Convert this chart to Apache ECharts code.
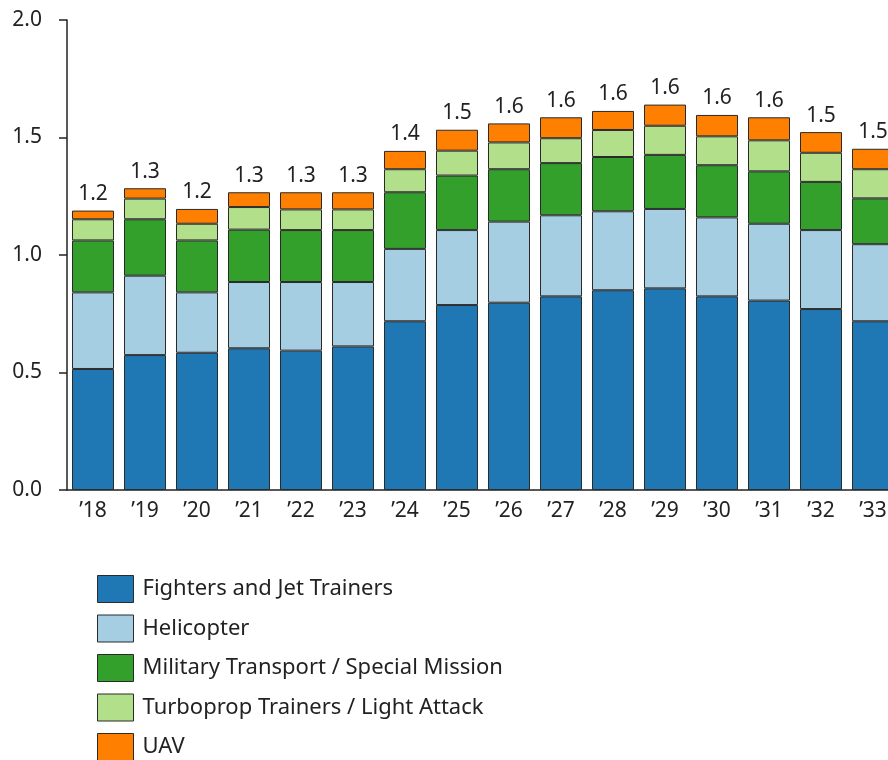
<!DOCTYPE html>
<html>
<head>
<meta charset="utf-8">
<script src="https://cdn.jsdelivr.net/npm/echarts@6/dist/echarts.min.js"></script>
<style>
  html, body { margin: 0; padding: 0; background: #fff; }
  #chart { width: 888px; height: 760px; }
</style>
</head>
<body>
<div id="chart"></div>
<script>
// Years on the category axis
const years = ['’18', '’19', '’20', '’21', '’22', '’23', '’24', '’25', '’26', '’27', '’28', '’29', '’30', '’31', '’32', '’33'];

// Segment values per year (stacked)
const fighters   = [0.515, 0.574, 0.584, 0.603, 0.593, 0.611, 0.718, 0.787, 0.797, 0.824, 0.850, 0.858, 0.824, 0.806, 0.770, 0.718];
const helicopter = [0.326, 0.338, 0.257, 0.282, 0.292, 0.274, 0.308, 0.319, 0.345, 0.345, 0.336, 0.338, 0.336, 0.327, 0.336, 0.328];
const transport  = [0.221, 0.240, 0.221, 0.223, 0.221, 0.221, 0.241, 0.232, 0.223, 0.222, 0.231, 0.230, 0.222, 0.223, 0.205, 0.195];
const turboprop  = [0.090, 0.088, 0.071, 0.096, 0.088, 0.088, 0.098, 0.106, 0.114, 0.106, 0.115, 0.124, 0.123, 0.132, 0.124, 0.124];
const uav        = [0.037, 0.044, 0.063, 0.063, 0.073, 0.073, 0.078, 0.089, 0.081, 0.089, 0.081, 0.090, 0.091, 0.098, 0.088, 0.087];

const seriesNames = [
  'Fighters and Jet Trainers',
  'Helicopter',
  'Military Transport / Special Mission',
  'Turboprop Trainers / Light Attack',
  'UAV'
];
const colors = ['#1f78b4', '#a6cee3', '#33a02c', '#b2df8a', '#ff7f00'];
const dataSets = [fighters, helicopter, transport, turboprop, uav];

const totals = years.map((_, i) => dataSets.reduce((s, d) => s + d[i], 0));

const FONT = 'Noto Sans';
const TEXT = '#222';

const series = dataSets.map((d, k) => ({
  name: seriesNames[k],
  type: 'bar',
  stack: 'total',
  data: d,
  barWidth: 42,
  itemStyle: { color: colors[k], borderColor: '#2a2a2a', borderWidth: 1 },
  label: k === dataSets.length - 1 ? {
    show: true,
    position: 'top',
    distance: 6,
    fontFamily: FONT,
    fontSize: 21,
    color: TEXT,
    formatter: p => (Math.round(totals[p.dataIndex] * 10) / 10).toFixed(1)
  } : { show: false }
}));

const chart = echarts.init(document.getElementById('chart'), null, { renderer: 'canvas' });
chart.setOption({
  animation: false,
  backgroundColor: '#fff',
  textStyle: { fontFamily: FONT },
  grid: {
    left: 67, top: 20, width: 832, height: 470,
    containLabel: false,
    outerBoundsMode: 'none'
  },
  legend: {
    orient: 'vertical',
    left: 97,
    top: 575,
    height: 200,
    padding: 0,
    itemWidth: 36,
    itemHeight: 27,
    itemGap: 11.5,
    icon: 'rect',
    data: seriesNames,
    itemStyle: { borderColor: '#2a2a2a', borderWidth: 1 },
    textStyle: { fontFamily: FONT, fontSize: 22, color: TEXT, padding: [0, 0, 0, 4] }
  },
  xAxis: {
    type: 'category',
    data: years,
    axisLine: { lineStyle: { color: '#222', width: 1.5 } },
    axisTick: { show: false },
    axisLabel: { fontFamily: FONT, fontSize: 21, color: TEXT, margin: 11 }
  },
  yAxis: {
    type: 'value',
    min: 0,
    max: 2,
    interval: 0.5,
    axisLine: { show: true, lineStyle: { color: '#222', width: 1.5 } },
    axisTick: { show: true, length: 8, lineStyle: { color: '#222', width: 1.5 } },
    splitLine: { show: false },
    axisLabel: {
      fontFamily: FONT, fontSize: 21, color: TEXT, margin: 25,
      formatter: v => v.toFixed(1)
    }
  },
  series: series
});
</script>
</body>
</html>
